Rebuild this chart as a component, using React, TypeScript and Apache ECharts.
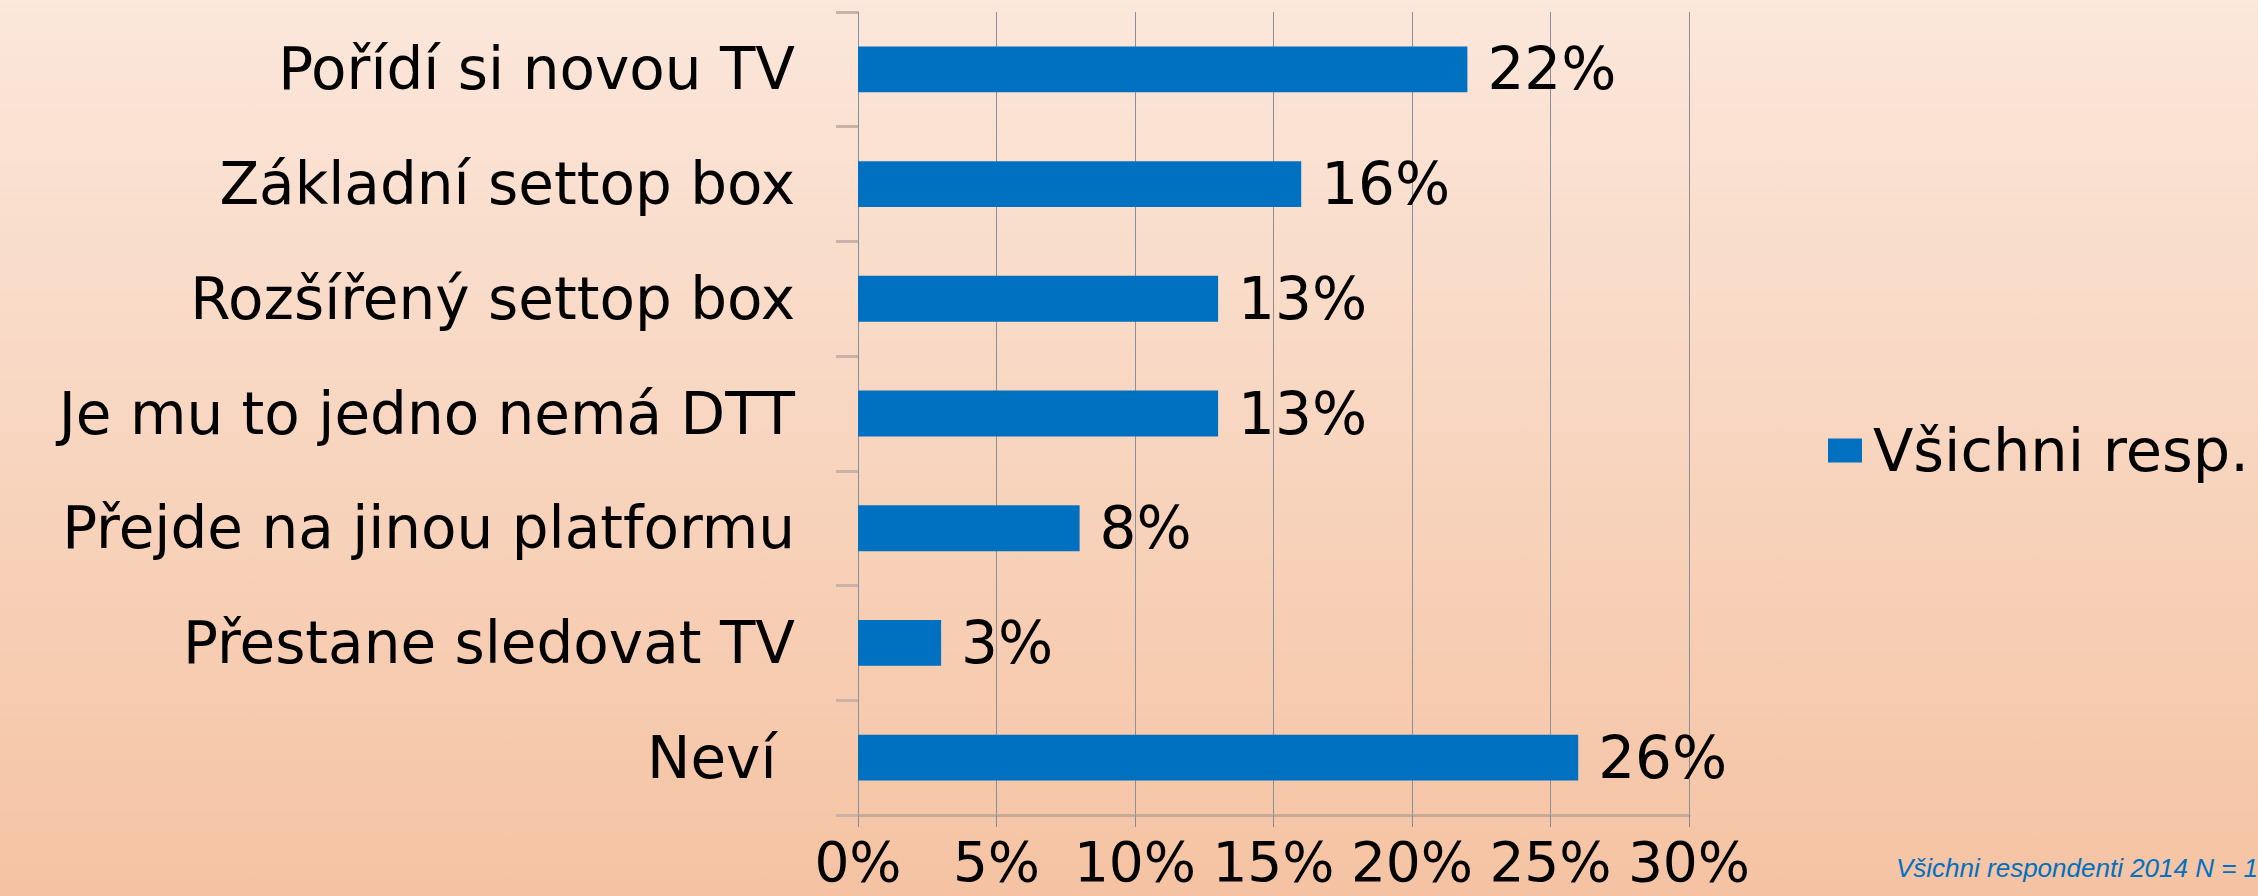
import React, { useEffect, useRef } from "react";
import * as echarts from "echarts";

const categories = [
  "Pořídí si novou TV",
  "Základní settop box",
  "Rozšířený settop box",
  "Je mu to jedno nemá DTT",
  "Přejde na jinou platformu",
  "Přestane sledovat TV",
  "Neví ",
];
const seriesName = "Všichni resp.";
const values = [22, 16, 13, 13, 8, 3, 26];
const footnote = "Všichni respondenti 2014 N = 1";
const axisMax = 30;
const axisStep = 5;

export default function App() {
  const ref = useRef<HTMLDivElement>(null);
  useEffect(() => {
    if (!ref.current) return;
    const chart = echarts.init(ref.current, null, { renderer: "svg" });
    const font = "DejaVu Sans";
    chart.setOption({
      animation: false,
      backgroundColor: new echarts.graphic.LinearGradient(0, 0, 0, 1, [
        { offset: 0, color: "#fbe7db" },
        { offset: 1, color: "#f5c3a3" },
      ]),
      textStyle: { fontFamily: font },
      grid: { left: 858, right: 569, top: 12, bottom: 81, containLabel: false },
      legend: {
        data: [seriesName],
        left: 1823,
        top: 416,
        itemWidth: 34,
        itemHeight: 24,
        itemGap: 10,
        icon: "rect",
        textStyle: { fontFamily: font, fontSize: 59, color: "#000", padding: [0, 0, 0, 6] },
      },
      xAxis: {
        type: "value",
        min: 0,
        max: axisMax,
        interval: axisStep,
        axisLabel: {
          formatter: "{value}%",
          fontFamily: font,
          fontSize: 55,
          lineHeight: 40,
          color: "#000",
          margin: 27,
        },
        axisLine: { show: true, lineStyle: { color: "#c9aa98", width: 3 } },
        axisTick: { show: true, length: 12, lineStyle: { color: "#7f8c9c", width: 1 } },
        splitLine: { show: true, lineStyle: { color: "#8a8f99", width: 1 } },
      },
      yAxis: {
        type: "category",
        data: categories,
        inverse: true,
        axisLabel: {
          fontFamily: font,
          fontSize: 58,
          color: "#000",
          margin: 63,
        },
        axisLine: { show: true, lineStyle: { color: "#8a8f99", width: 1 } },
        axisTick: { show: true, length: 22, lineStyle: { color: "#c9b3a8", width: 3 } },
      },
      series: [
        {
          name: seriesName,
          type: "bar",
          data: values,
          barCategoryGap: "60%",
          itemStyle: { color: "#0070c0" },
          label: {
            show: true,
            position: "right",
            distance: 20,
            formatter: "{c}%",
            fontFamily: font,
            fontSize: 58,
            color: "#000",
          },
        },
      ],
      graphic: [
        {
          type: "text",
          left: 1896,
          top: 855,
          style: {
            text: footnote,
            fontFamily: "Liberation Sans",
            fontStyle: "italic",
            fontSize: 26,
            fill: "#0070c0",
          },
        },
      ],
    });
    return () => chart.dispose();
  }, []);
  return (
    <div
      ref={ref}
      style={{ position: "fixed", left: 0, top: 0, width: 2258, height: 896 }}
    />
  );
}
